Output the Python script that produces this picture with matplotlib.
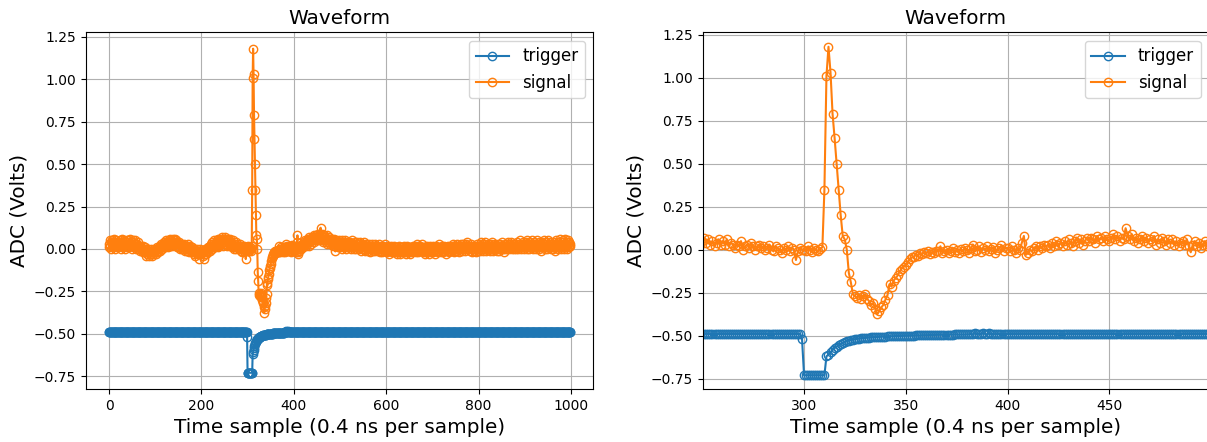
import matplotlib
matplotlib.use("Agg")
import matplotlib.pyplot as plt
import numpy as np

# ------------------------------------------------------------
# Digitiser readout, 1000 samples (0.4 ns each)
# ------------------------------------------------------------
signal = [
    0.03, 0.01, 0.05, 0.02, 0.04, 0.0, 0.03, 0.05, 0.01, 0.02, 0.04, 0.06, 0.02, 0.0, 0.03, 0.05, 0.02, 0.01, 0.04, 0.03,
    0.01, 0.04, 0.02, 0.05, 0.03, 0.0, 0.02, 0.04, 0.06, 0.03, 0.01, 0.02, 0.05, 0.03, 0.0, 0.04, 0.02, 0.03, 0.05, 0.01,
    0.04, 0.02, 0.05, 0.03, 0.01, 0.06, 0.03, 0.02, 0.04, 0.0, 0.03, 0.05, 0.02, 0.04, 0.01, 0.03, 0.05, 0.02, 0.0, 0.03,
    0.03, 0.01, 0.02, 0.04, 0.0, 0.02, 0.01, -0.01, 0.02, 0.0, 0.01, -0.01, 0.0, 0.02, -0.02, 0.0, -0.01, 0.01, -0.02, 0.0,
    -0.02, -0.04, -0.01, -0.03, 0.0, -0.02, -0.04, -0.01, -0.03, -0.02, 0.0, -0.03, -0.01, -0.04, -0.02, -0.01, -0.03, 0.0, -0.02, -0.01,
    -0.01, -0.03, 0.0, -0.02, 0.01, -0.01, 0.0, -0.02, 0.01, 0.0, 0.02, -0.01, 0.01, 0.03, 0.0, 0.02, 0.01, 0.03, 0.02, 0.04,
    0.02, 0.04, 0.01, 0.03, 0.05, 0.02, 0.04, 0.03, 0.01, 0.05, 0.03, 0.02, 0.04, 0.06, 0.03, 0.05, 0.02, 0.04, 0.06, 0.03,
    0.05, 0.03, 0.06, 0.04, 0.02, 0.05, 0.03, 0.04, 0.01, 0.03, 0.02, 0.04, 0.01, 0.03, 0.0, 0.02, 0.03, 0.01, 0.02, 0.0,
    0.02, 0.0, 0.01, 0.03, -0.01, 0.02, 0.0, 0.01, -0.01, 0.02, 0.03, 0.0, 0.01, -0.02, 0.01, 0.0, 0.02, -0.01, 0.0, 0.01,
    -0.01, 0.0, -0.02, -0.01, -0.03, 0.0, -0.02, -0.04, -0.01, -0.02, 0.0, -0.03, -0.01, -0.02, -0.06, -0.02, 0.0, -0.03, -0.01, -0.02,
    -0.03, -0.01, -0.02, -0.04, -0.02, -0.06, -0.01, -0.03, 0.0, -0.02, -0.01, -0.03, 0.0, -0.01, 0.01, -0.02, 0.0, 0.01, -0.01, 0.02,
    0.01, 0.03, 0.0, 0.02, 0.04, 0.01, 0.03, 0.02, 0.05, 0.01, 0.03, 0.04, 0.02, 0.05, 0.03, 0.01, 0.04, 0.06, 0.02, 0.04,
    0.04, 0.06, 0.03, 0.05, 0.07, 0.04, 0.02, 0.05, 0.06, 0.03, 0.05, 0.07, 0.04, 0.06, 0.03, 0.05, 0.02, 0.04, 0.06, 0.03,
    0.05, 0.03, 0.06, 0.02, 0.04, 0.03, 0.01, 0.03, 0.02, 0.05, 0.0, 0.02, 0.03, 0.01, 0.04, 0.02, 0.0, 0.02, 0.03, 0.01,
    0.02, 0.0, 0.01, 0.03, 0.0, -0.01, 0.02, 0.01, 0.0, -0.02, 0.01, 0.0, 0.02, -0.01, 0.01, 0.0, -0.06, -0.01, 0.01, 0.0,
    0.0, -0.01, 0.02, 0.0, -0.015, 0.01, 0.0, -0.01, 0.005, 0.015, 0.35, 1.01, 1.18, 1.03, 0.79, 0.65, 0.50, 0.35, 0.20, 0.08,
    0.06, 0.0, -0.135, -0.19, -0.26, -0.27, -0.28, -0.265, -0.285, -0.27, -0.26, -0.285, -0.30, -0.32, -0.31, -0.345, -0.375, -0.355, -0.335, -0.32,
    -0.29, -0.265, -0.20, -0.215, -0.18, -0.165, -0.15, -0.125, -0.11, -0.10, -0.09, -0.07, -0.055, -0.045, -0.04, -0.03, -0.035, -0.02, -0.025, -0.015,
    -0.02, -0.01, -0.025, -0.015, -0.02, -0.005, -0.01, 0.02, -0.02, -0.01, 0.0, -0.02, -0.01, 0.01, -0.015, 0.0, -0.02, 0.005, -0.01, 0.01,
    0.0, -0.02, 0.01, 0.03, -0.01, 0.0, 0.02, -0.015, 0.01, 0.0, 0.02, -0.01, 0.005, 0.015, -0.02, 0.0, 0.01, 0.025, -0.005, 0.01,
    0.01, -0.01, 0.02, 0.0, -0.02, 0.01, 0.0, 0.04, 0.08, -0.03, -0.02, 0.0, -0.01, 0.01, 0.02, 0.0, 0.02, 0.01, 0.03, 0.02,
    0.03, 0.01, 0.04, 0.02, 0.05, 0.03, 0.04, 0.02, 0.05, 0.03, 0.06, 0.04, 0.02, 0.05, 0.07, 0.04, 0.06, 0.03, 0.05, 0.07,
    0.05, 0.07, 0.06, 0.04, 0.08, 0.06, 0.07, 0.05, 0.08, 0.06, 0.05, 0.07, 0.09, 0.06, 0.08, 0.05, 0.07, 0.06, 0.125, 0.08,
    0.06, 0.09, 0.05, 0.07, 0.04, 0.06, 0.08, 0.05, 0.07, 0.04, 0.06, 0.05, 0.08, 0.03, 0.06, 0.04, 0.07, 0.05, 0.03, 0.06,
    0.04, 0.06, 0.03, 0.05, 0.02, 0.04, 0.05, 0.03, 0.06, 0.02, -0.015, 0.03, 0.05, 0.02, 0.04, 0.01, 0.03, 0.05, 0.02, 0.04,
    0.03, 0.01, 0.04, 0.02, 0.05, 0.0, 0.03, 0.02, 0.04, 0.01, 0.03, 0.05, 0.02, 0.0, 0.03, 0.04, 0.01, 0.02, 0.04, 0.02,
    0.02, 0.04, 0.01, 0.03, 0.0, 0.02, 0.05, 0.01, 0.03, 0.02, 0.0, 0.03, 0.01, 0.04, 0.02, 0.0, 0.03, 0.02, 0.04, 0.01,
    0.01, 0.03, 0.0, 0.02, 0.04, 0.01, -0.01, 0.02, 0.03, 0.0, 0.02, 0.01, 0.04, 0.0, 0.02, -0.01, 0.03, 0.01, 0.02, 0.0,
    0.02, -0.01, 0.01, 0.03, 0.0, 0.02, -0.02, 0.01, 0.0, 0.03, 0.01, -0.01, 0.02, 0.0, 0.01, 0.03, -0.01, 0.0, 0.02, 0.01,
    0.0, 0.02, -0.01, 0.01, 0.03, 0.0, -0.02, 0.01, 0.02, -0.01, 0.0, 0.01, -0.02, 0.02, 0.0, -0.01, 0.01, 0.03, 0.0, -0.01,
    -0.01, 0.01, -0.02, 0.0, 0.02, -0.01, 0.0, -0.03, 0.01, -0.01, 0.02, 0.0, -0.02, 0.01, -0.01, 0.0, 0.02, -0.02, 0.0, 0.01,
    -0.02, 0.0, -0.01, 0.01, -0.03, 0.0, -0.01, 0.02, -0.02, -0.01, 0.01, -0.03, 0.0, -0.01, 0.01, -0.02, 0.0, -0.01, 0.02, -0.02,
    0.0, -0.02, 0.01, -0.01, -0.03, 0.0, 0.02, -0.01, 0.0, -0.02, 0.01, -0.01, -0.03, 0.0, 0.01, -0.02, 0.0, -0.01, 0.02, -0.01,
    0.01, -0.01, 0.02, 0.0, -0.02, 0.01, 0.03, -0.01, 0.0, 0.02, -0.02, 0.0, 0.01, -0.01, 0.02, 0.0, -0.01, 0.01, 0.03, 0.0,
    -0.01, 0.01, -0.02, 0.0, 0.01, -0.03, 0.0, -0.01, 0.02, -0.02, 0.0, 0.01, -0.01, -0.03, 0.0, 0.02, -0.01, 0.0, -0.02, 0.01,
    0.0, -0.02, 0.02, -0.01, 0.01, 0.0, -0.03, 0.01, 0.0, 0.02, -0.01, 0.0, -0.02, 0.01, 0.03, -0.01, 0.0, 0.01, -0.02, 0.0,
    0.02, 0.0, -0.01, 0.01, -0.02, 0.0, 0.02, -0.01, 0.01, 0.0, -0.03, 0.01, 0.0, 0.02, -0.01, 0.0, 0.01, -0.02, 0.01, 0.0,
    0.01, -0.01, 0.02, 0.0, 0.03, 0.0, -0.02, 0.01, 0.02, -0.01, 0.0, 0.02, 0.01, -0.01, 0.03, 0.0, 0.01, -0.02, 0.02, 0.0,
    0.02, 0.0, 0.03, 0.01, -0.01, 0.02, 0.0, 0.03, 0.01, 0.02, -0.01, 0.01, 0.03, 0.0, 0.02, 0.04, 0.01, 0.0, 0.02, 0.01,
    0.0, 0.02, -0.01, 0.01, 0.03, 0.0, -0.02, 0.01, 0.02, 0.0, -0.01, 0.02, 0.0, 0.01, -0.02, 0.01, 0.03, 0.0, 0.01, -0.01,
    0.02, 0.0, 0.01, 0.03, -0.01, 0.02, 0.04, 0.0, 0.01, 0.02, -0.01, 0.03, 0.01, 0.0, 0.02, 0.04, 0.01, -0.01, 0.02, 0.0,
    0.01, 0.03, 0.0, 0.02, -0.01, 0.01, 0.03, 0.0, 0.02, 0.01, 0.04, 0.0, -0.01, 0.02, 0.01, 0.03, 0.0, 0.02, 0.01, -0.01,
    0.02, 0.0, 0.03, 0.01, 0.02, -0.01, 0.01, 0.03, 0.0, 0.02, 0.01, 0.04, 0.0, 0.02, 0.01, -0.02, 0.02, 0.0, 0.03, 0.01,
    0.01, 0.03, 0.0, 0.02, 0.04, 0.01, 0.02, 0.0, 0.03, 0.01, 0.02, 0.04, 0.0, 0.02, 0.03, 0.01, 0.0, 0.03, 0.02, 0.01,
    0.02, 0.0, 0.03, 0.01, 0.04, 0.02, 0.0, 0.01, 0.03, 0.02, 0.05, 0.01, 0.02, 0.0, 0.03, 0.02, 0.04, 0.01, 0.02, 0.0,
    0.03, 0.01, 0.02, 0.04, 0.0, 0.02, 0.05, 0.01, 0.03, 0.02, 0.0, 0.04, 0.02, 0.01, 0.03, 0.05, 0.02, 0.0, 0.03, 0.01,
    0.02, 0.04, 0.01, 0.03, 0.0, 0.02, 0.05, 0.03, 0.01, 0.02, 0.04, 0.0, 0.03, 0.01, 0.02, -0.01, 0.03, 0.04, 0.01, 0.02,
    0.01, 0.03, 0.05, 0.02, 0.0, 0.03, 0.01, 0.04, 0.02, 0.0, 0.02, 0.05, 0.01, 0.03, 0.02, 0.04, 0.0, 0.02, 0.03, 0.01,
    0.03, 0.0, 0.02, 0.04, 0.01, 0.03, -0.01, 0.02, 0.05, 0.01, 0.03, 0.02, 0.0, 0.04, 0.02, 0.01, 0.06, 0.02, 0.0, 0.03,
    0.02, 0.04, 0.01, 0.03, 0.05, 0.0, 0.02, 0.06, 0.01, 0.03, 0.02, 0.04, 0.0, 0.03, 0.05, 0.02, 0.01, 0.04, 0.02, 0.03,
]

trigger = [
    -0.49, -0.49, -0.49, -0.49, -0.49, -0.49, -0.49, -0.49, -0.49, -0.49, -0.49, -0.49, -0.49, -0.49, -0.49, -0.49, -0.49, -0.49, -0.49, -0.49,
    -0.49, -0.49, -0.49, -0.49, -0.49, -0.49, -0.49, -0.49, -0.49, -0.49, -0.49, -0.49, -0.49, -0.49, -0.49, -0.49, -0.49, -0.49, -0.49, -0.49,
    -0.49, -0.49, -0.49, -0.49, -0.49, -0.49, -0.49, -0.49, -0.49, -0.49, -0.49, -0.49, -0.49, -0.49, -0.49, -0.49, -0.49, -0.49, -0.49, -0.49,
    -0.49, -0.49, -0.49, -0.49, -0.49, -0.49, -0.49, -0.49, -0.49, -0.49, -0.49, -0.49, -0.49, -0.49, -0.49, -0.49, -0.49, -0.49, -0.49, -0.49,
    -0.49, -0.49, -0.49, -0.49, -0.49, -0.49, -0.49, -0.49, -0.49, -0.49, -0.49, -0.49, -0.49, -0.49, -0.49, -0.49, -0.49, -0.49, -0.49, -0.49,
    -0.49, -0.49, -0.49, -0.49, -0.49, -0.49, -0.49, -0.49, -0.49, -0.49, -0.49, -0.49, -0.49, -0.49, -0.49, -0.49, -0.49, -0.49, -0.49, -0.49,
    -0.49, -0.49, -0.49, -0.49, -0.49, -0.49, -0.49, -0.49, -0.49, -0.49, -0.49, -0.49, -0.49, -0.49, -0.49, -0.49, -0.49, -0.49, -0.49, -0.49,
    -0.49, -0.49, -0.49, -0.49, -0.49, -0.49, -0.49, -0.49, -0.49, -0.49, -0.49, -0.49, -0.49, -0.49, -0.49, -0.49, -0.49, -0.49, -0.49, -0.49,
    -0.49, -0.49, -0.49, -0.49, -0.49, -0.49, -0.49, -0.49, -0.49, -0.49, -0.49, -0.49, -0.49, -0.49, -0.49, -0.49, -0.49, -0.49, -0.49, -0.49,
    -0.49, -0.49, -0.49, -0.49, -0.49, -0.49, -0.49, -0.49, -0.49, -0.49, -0.49, -0.49, -0.49, -0.49, -0.49, -0.49, -0.49, -0.49, -0.49, -0.49,
    -0.49, -0.49, -0.49, -0.49, -0.49, -0.49, -0.49, -0.49, -0.49, -0.49, -0.49, -0.49, -0.49, -0.49, -0.49, -0.49, -0.49, -0.49, -0.49, -0.49,
    -0.49, -0.49, -0.49, -0.49, -0.49, -0.49, -0.49, -0.49, -0.49, -0.49, -0.49, -0.49, -0.49, -0.49, -0.49, -0.49, -0.49, -0.49, -0.49, -0.49,
    -0.49, -0.49, -0.49, -0.49, -0.49, -0.49, -0.49, -0.49, -0.49, -0.49, -0.49, -0.49, -0.49, -0.49, -0.49, -0.49, -0.49, -0.49, -0.49, -0.49,
    -0.49, -0.49, -0.49, -0.49, -0.49, -0.49, -0.49, -0.49, -0.49, -0.49, -0.49, -0.49, -0.49, -0.49, -0.49, -0.49, -0.49, -0.49, -0.49, -0.49,
    -0.49, -0.49, -0.49, -0.49, -0.49, -0.49, -0.49, -0.49, -0.49, -0.49, -0.49, -0.49, -0.49, -0.49, -0.49, -0.49, -0.49, -0.49, -0.49, -0.52,
    -0.73, -0.73, -0.73, -0.73, -0.73, -0.73, -0.73, -0.73, -0.73, -0.73, -0.73, -0.62, -0.61, -0.595, -0.583, -0.572, -0.563, -0.555, -0.548, -0.542,
    -0.537, -0.533, -0.529, -0.526, -0.523, -0.521, -0.519, -0.517, -0.515, -0.514, -0.513, -0.512, -0.511, -0.51, -0.509, -0.508, -0.507, -0.507, -0.506, -0.505,
    -0.505, -0.504, -0.504, -0.503, -0.503, -0.502, -0.502, -0.501, -0.501, -0.5, -0.5, -0.5, -0.499, -0.499, -0.499, -0.498, -0.498, -0.498, -0.497, -0.497,
    -0.497, -0.497, -0.496, -0.496, -0.496, -0.495, -0.495, -0.495, -0.495, -0.494, -0.494, -0.494, -0.494, -0.494, -0.493, -0.493, -0.493, -0.493, -0.493, -0.493,
    -0.492, -0.492, -0.49, -0.492, -0.486, -0.492, -0.488, -0.491, -0.486, -0.49, -0.492, -0.487, -0.491, -0.49, -0.492, -0.49, -0.491, -0.49, -0.49, -0.491,
    -0.49, -0.49, -0.49, -0.49, -0.49, -0.49, -0.49, -0.49, -0.49, -0.49, -0.49, -0.49, -0.49, -0.49, -0.49, -0.49, -0.49, -0.49, -0.49, -0.49,
    -0.49, -0.49, -0.49, -0.49, -0.49, -0.49, -0.49, -0.49, -0.49, -0.49, -0.49, -0.49, -0.49, -0.49, -0.49, -0.49, -0.49, -0.49, -0.49, -0.49,
    -0.49, -0.49, -0.49, -0.49, -0.49, -0.49, -0.49, -0.49, -0.49, -0.49, -0.49, -0.49, -0.49, -0.49, -0.49, -0.49, -0.49, -0.49, -0.49, -0.49,
    -0.49, -0.49, -0.49, -0.49, -0.49, -0.49, -0.49, -0.49, -0.49, -0.49, -0.49, -0.49, -0.49, -0.49, -0.49, -0.49, -0.49, -0.49, -0.49, -0.49,
    -0.49, -0.49, -0.49, -0.49, -0.49, -0.49, -0.49, -0.49, -0.49, -0.49, -0.49, -0.49, -0.49, -0.49, -0.49, -0.49, -0.49, -0.49, -0.49, -0.49,
    -0.49, -0.49, -0.49, -0.49, -0.49, -0.49, -0.49, -0.49, -0.49, -0.49, -0.49, -0.49, -0.49, -0.49, -0.49, -0.49, -0.49, -0.49, -0.49, -0.49,
    -0.49, -0.49, -0.49, -0.49, -0.49, -0.49, -0.49, -0.49, -0.49, -0.49, -0.49, -0.49, -0.49, -0.49, -0.49, -0.49, -0.49, -0.49, -0.49, -0.49,
    -0.49, -0.49, -0.49, -0.49, -0.49, -0.49, -0.49, -0.49, -0.49, -0.49, -0.49, -0.49, -0.49, -0.49, -0.49, -0.49, -0.49, -0.49, -0.49, -0.49,
    -0.49, -0.49, -0.49, -0.49, -0.49, -0.49, -0.49, -0.49, -0.49, -0.49, -0.49, -0.49, -0.49, -0.49, -0.49, -0.49, -0.49, -0.49, -0.49, -0.49,
    -0.49, -0.49, -0.49, -0.49, -0.49, -0.49, -0.49, -0.49, -0.49, -0.49, -0.49, -0.49, -0.49, -0.49, -0.49, -0.49, -0.49, -0.49, -0.49, -0.49,
    -0.49, -0.49, -0.49, -0.49, -0.49, -0.49, -0.49, -0.49, -0.49, -0.49, -0.49, -0.49, -0.49, -0.49, -0.49, -0.49, -0.49, -0.49, -0.49, -0.49,
    -0.49, -0.49, -0.49, -0.49, -0.49, -0.49, -0.49, -0.49, -0.49, -0.49, -0.49, -0.49, -0.49, -0.49, -0.49, -0.49, -0.49, -0.49, -0.49, -0.49,
    -0.49, -0.49, -0.49, -0.49, -0.49, -0.49, -0.49, -0.49, -0.49, -0.49, -0.49, -0.49, -0.49, -0.49, -0.49, -0.49, -0.49, -0.49, -0.49, -0.49,
    -0.49, -0.49, -0.49, -0.49, -0.49, -0.49, -0.49, -0.49, -0.49, -0.49, -0.49, -0.49, -0.49, -0.49, -0.49, -0.49, -0.49, -0.49, -0.49, -0.49,
    -0.49, -0.49, -0.49, -0.49, -0.49, -0.49, -0.49, -0.49, -0.49, -0.49, -0.49, -0.49, -0.49, -0.49, -0.49, -0.49, -0.49, -0.49, -0.49, -0.49,
    -0.49, -0.49, -0.49, -0.49, -0.49, -0.49, -0.49, -0.49, -0.49, -0.49, -0.49, -0.49, -0.49, -0.49, -0.49, -0.49, -0.49, -0.49, -0.49, -0.49,
    -0.49, -0.49, -0.49, -0.49, -0.49, -0.49, -0.49, -0.49, -0.49, -0.49, -0.49, -0.49, -0.49, -0.49, -0.49, -0.49, -0.49, -0.49, -0.49, -0.49,
    -0.49, -0.49, -0.49, -0.49, -0.49, -0.49, -0.49, -0.49, -0.49, -0.49, -0.49, -0.49, -0.49, -0.49, -0.49, -0.49, -0.49, -0.49, -0.49, -0.49,
    -0.49, -0.49, -0.49, -0.49, -0.49, -0.49, -0.49, -0.49, -0.49, -0.49, -0.49, -0.49, -0.49, -0.49, -0.49, -0.49, -0.49, -0.49, -0.49, -0.49,
    -0.49, -0.49, -0.49, -0.49, -0.49, -0.49, -0.49, -0.49, -0.49, -0.49, -0.49, -0.49, -0.49, -0.49, -0.49, -0.49, -0.49, -0.49, -0.49, -0.49,
    -0.49, -0.49, -0.49, -0.49, -0.49, -0.49, -0.49, -0.49, -0.49, -0.49, -0.49, -0.49, -0.49, -0.49, -0.49, -0.49, -0.49, -0.49, -0.49, -0.49,
    -0.49, -0.49, -0.49, -0.49, -0.49, -0.49, -0.49, -0.49, -0.49, -0.49, -0.49, -0.49, -0.49, -0.49, -0.49, -0.49, -0.49, -0.49, -0.49, -0.49,
    -0.49, -0.49, -0.49, -0.49, -0.49, -0.49, -0.49, -0.49, -0.49, -0.49, -0.49, -0.49, -0.49, -0.49, -0.49, -0.49, -0.49, -0.49, -0.49, -0.49,
    -0.49, -0.49, -0.49, -0.49, -0.49, -0.49, -0.49, -0.49, -0.49, -0.49, -0.49, -0.49, -0.49, -0.49, -0.49, -0.49, -0.49, -0.49, -0.49, -0.49,
    -0.49, -0.49, -0.49, -0.49, -0.49, -0.49, -0.49, -0.49, -0.49, -0.49, -0.49, -0.49, -0.49, -0.49, -0.49, -0.49, -0.49, -0.49, -0.49, -0.49,
    -0.49, -0.49, -0.49, -0.49, -0.49, -0.49, -0.49, -0.49, -0.49, -0.49, -0.49, -0.49, -0.49, -0.49, -0.49, -0.49, -0.49, -0.49, -0.49, -0.49,
    -0.49, -0.49, -0.49, -0.49, -0.49, -0.49, -0.49, -0.49, -0.49, -0.49, -0.49, -0.49, -0.49, -0.49, -0.49, -0.49, -0.49, -0.49, -0.49, -0.49,
    -0.49, -0.49, -0.49, -0.49, -0.49, -0.49, -0.49, -0.49, -0.49, -0.49, -0.49, -0.49, -0.49, -0.49, -0.49, -0.49, -0.49, -0.49, -0.49, -0.49,
    -0.49, -0.49, -0.49, -0.49, -0.49, -0.49, -0.49, -0.49, -0.49, -0.49, -0.49, -0.49, -0.49, -0.49, -0.49, -0.49, -0.49, -0.49, -0.49, -0.49,
    -0.49, -0.49, -0.49, -0.49, -0.49, -0.49, -0.49, -0.49, -0.49, -0.49, -0.49, -0.49, -0.49, -0.49, -0.49, -0.49, -0.49, -0.49, -0.49, -0.49,
]

samples_sig = np.arange(len(signal))
samples_trg = np.arange(len(trigger))

# full record on the left, zoom on the pulse on the right
X_ZOOM = (250.2, 499.0)
Y_ZOOM = (-0.81, 1.263)
FS = 14.4

fig = plt.figure(figsize=(12.07, 4.42), dpi=100)
ax_full = fig.add_axes([0.0712, 0.1199, 0.4205, 0.8066])
ax_zoom = fig.add_axes([0.5822, 0.1199, 0.4195, 0.8066])

for ax in (ax_full, ax_zoom):
    ax.plot(samples_trg, trigger, marker="o", mfc="none", label="trigger")
    ax.plot(samples_sig, signal, marker="o", mfc="none", label="signal")
    ax.set_title("Waveform", fontsize=FS)
    ax.set_xlabel("Time sample (0.4 ns per sample)", fontsize=FS)
    ax.set_ylabel("ADC (Volts)", fontsize=FS)
    ax.legend(loc="upper right", fontsize=12)
    ax.grid(True)

ax_zoom.set_xlim(*X_ZOOM)
ax_zoom.set_ylim(*Y_ZOOM)

fig.savefig("out.png", dpi=100)
